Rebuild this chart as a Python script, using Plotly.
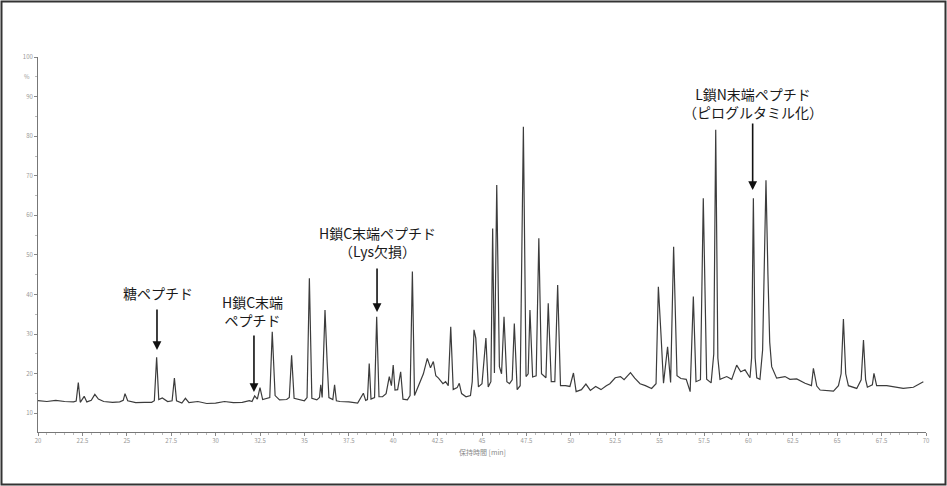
import plotly.graph_objects as go

# Retention time [min] and intensity [%]
rt_min = [
    20.0, 20.5, 21.0, 21.5, 22.0, 22.15, 22.27, 22.38, 22.6, 22.75, 23.0, 23.2, 23.4, 23.7,
    24.2, 24.6, 24.8, 24.9, 25.05, 25.5, 26.0, 26.4, 26.55, 26.68, 26.8, 27.0, 27.3, 27.55,
    27.68, 27.8, 28.1, 28.3, 28.5, 29.0, 29.5, 30.0, 30.5, 31.0, 31.5, 31.9, 32.05, 32.2,
    32.35, 32.5, 32.65, 32.9, 33.05, 33.19, 33.35, 33.6, 34.0, 34.15, 34.28, 34.42, 34.7,
    35.0, 35.15, 35.28, 35.42, 35.7, 35.85, 35.92, 36.0, 36.16, 36.28, 36.38, 36.6, 36.7,
    36.8, 37.0, 37.5, 38.0, 38.32, 38.45, 38.55, 38.65, 38.75, 38.95, 39.07, 39.2, 39.4,
    39.6, 39.78, 39.9, 40.0, 40.1, 40.25, 40.42, 40.55, 40.8, 40.95, 41.08, 41.2, 41.5,
    41.7, 41.92, 42.1, 42.26, 42.4, 42.55, 42.8, 42.95, 43.1, 43.24, 43.38, 43.6, 43.72,
    43.85, 44.1, 44.35, 44.45, 44.55, 44.65, 44.8, 45.0, 45.22, 45.35, 45.5, 45.6, 45.7,
    45.83, 45.98, 46.1, 46.24, 46.4, 46.55, 46.7, 46.82, 46.98, 47.15, 47.33, 47.48, 47.6,
    47.7, 47.85, 48.05, 48.2, 48.35, 48.6, 48.73, 48.9, 49.1, 49.26, 49.42, 49.7, 49.95,
    50.15, 50.3, 50.6, 50.85, 51.1, 51.4, 51.7, 52.0, 52.2, 52.5, 52.8, 53.0, 53.36, 53.6,
    53.9, 54.2, 54.55, 54.8, 54.93, 55.08, 55.22, 55.45, 55.62, 55.79, 55.98, 56.2, 56.5,
    56.72, 56.9, 57.05, 57.3, 57.46, 57.65, 57.9, 58.05, 58.16, 58.28, 58.4, 58.78, 59.06,
    59.34, 59.57, 59.81, 60.09, 60.18, 60.28, 60.38, 60.47, 60.65, 60.8, 60.9, 60.99, 61.1,
    61.2, 61.31, 61.59, 62.06, 62.34, 62.72, 63.19, 63.55, 63.66, 63.85, 64.04, 64.79, 65.07,
    65.22, 65.35, 65.48, 65.63, 66.1, 66.35, 66.48, 66.6, 66.7, 66.98, 67.07, 67.22, 67.79,
    68.72, 69.29, 69.85,
]
intensity_pct = [
    13.2, 13.0, 13.3, 13.0, 12.9, 13.1, 17.8, 12.8, 14.3, 12.9, 13.3, 14.8, 13.6, 13.0,
    12.8, 12.9, 13.3, 15.0, 13.2, 12.7, 12.8, 12.8, 13.2, 24.2, 13.5, 13.9, 13.0, 13.2,
    18.9, 13.2, 12.6, 13.8, 12.7, 13.0, 12.5, 12.6, 13.0, 12.7, 12.8, 13.2, 13.0, 14.4,
    13.6, 16.5, 13.5, 13.8, 14.0, 30.6, 14.5, 13.4, 13.5, 14.0, 24.7, 13.8, 13.5,
    13.2, 14.0, 44.1, 13.8, 13.4, 14.0, 17.2, 14.0, 36.1, 23.0, 14.0, 13.5, 17.2,
    13.2, 13.0, 12.9, 12.6, 15.1, 13.3, 13.5, 22.6, 13.6, 14.0, 34.4, 14.2, 14.2,
    15.0, 19.3, 17.0, 22.2, 15.9, 16.0, 20.5, 13.6, 13.4, 14.5, 45.8, 14.5, 17.7,
    20.0, 23.9, 21.5, 23.1, 19.5, 18.9, 17.5, 18.0, 17.0, 31.9, 16.0, 16.5, 17.6,
    15.0, 14.2, 14.5, 18.0, 31.1, 29.0, 16.7, 17.5, 29.0, 16.7, 18.0, 56.7, 20.2,
    67.7, 21.8, 20.0, 34.4, 18.0, 17.5, 18.5, 32.7, 16.0, 17.0, 82.4, 19.3, 20.0,
    36.1, 19.2, 19.5, 54.2, 20.0, 19.0, 37.8, 18.0, 18.0, 42.4, 17.0, 17.0, 16.8,
    20.2, 15.5, 16.0, 17.4, 15.8, 16.8, 16.0, 17.0, 17.5, 19.0, 19.3, 18.5, 20.3, 18.9,
    17.5, 17.0, 16.3, 17.5, 42.0, 29.8, 17.6, 26.8, 17.8, 52.1, 19.5, 18.8, 18.6,
    15.5, 39.5, 18.0, 18.5, 64.3, 18.6, 17.7, 25.0, 81.6, 24.0, 18.6, 19.3, 18.6,
    22.2, 20.5, 21.0, 19.0, 24.0, 64.3, 24.0, 19.0, 18.6, 26.0, 50.0, 68.9, 45.0,
    28.0, 21.8, 18.9, 19.3, 18.6, 18.7, 17.6, 17.0, 21.4, 16.9, 15.9, 15.6, 17.0,
    20.0, 33.8, 20.0, 17.0, 16.3, 18.5, 28.5, 18.5, 16.6, 17.2, 20.1, 17.0, 17.0,
    16.3, 16.6, 18.0,
]

x_ticks = [20, 22.5, 25, 27.5, 30, 32.5, 35, 37.5, 40, 42.5, 45, 47.5, 50, 52.5, 55, 57.5, 60, 62.5, 65, 67.5, 70]
y_ticks = [10, 20, 30, 40, 50, 60, 70, 80, 90, 100]

# Labelled peaks: (label, arrow tip rt, arrow tip intensity, arrow length px, label rt, label intensity)
peak_labels = ["糖ペプチド", "H鎖C末端<br>ペプチド", "H鎖C末端ペプチド<br>（Lys欠損）", "L鎖N末端ペプチド<br>（ピログルタミル化）"]
tip_rt = [26.70, 32.16, 39.09, 60.24]
tip_int = [26.0, 15.4, 35.6, 66.4]
arrow_len = [42, 58, 45, 68]
label_rt = [26.76, 32.1, 39.09, 60.24]
label_int = [40.4, 35.9, 53.3, 88.5]

FONT = "Noto Sans CJK JP"

fig = go.Figure()
fig.add_trace(go.Scatter(
    x=rt_min, y=intensity_pct, mode="lines",
    line=dict(color="#3c3c3c", width=1.2),
    hoverinfo="skip", showlegend=False,
))

annotations = []
for lab, tx, ty, al, lx, ly in zip(peak_labels, tip_rt, tip_int, arrow_len, label_rt, label_int):
    annotations.append(dict(
        x=tx, y=ty, xref="x", yref="y", text="", showarrow=True,
        ax=0, ay=-al, arrowhead=2, arrowsize=1.1, arrowwidth=1.6, arrowcolor="#111111",
    ))
    annotations.append(dict(
        x=lx, y=ly, xref="x", yref="y", text=lab, showarrow=False,
        font=dict(family=FONT, size=14, color="#1a1a1a"),
        xanchor="center", yanchor="middle", align="center",
    ))

annotations.append(dict(x=-0.0124, y=95, xref="paper", yref="y", text="%", showarrow=False,
                        font=dict(family=FONT, size=6, color="#999999"), xanchor="center"))
annotations.append(dict(x=0.5, y=-0.053, xref="paper", yref="paper", text="保持時間 [min]", showarrow=False,
                        font=dict(family=FONT, size=7, color="#888888"), xanchor="center", yanchor="middle"))

L, R, T, B = 38, 21, 57, 54
W, H = 947, 486
pw, ph = W - L - R, H - T - B

fig.update_layout(
    width=W, height=H,
    margin=dict(l=L, r=R, t=T, b=B),
    paper_bgcolor="white", plot_bgcolor="white",
    annotations=annotations,
    shapes=[dict(
        type="rect", xref="paper", yref="paper",
        x0=(1.5 - L) / pw, x1=(W - 1.5 - L) / pw,
        y0=(H - B - (H - 1.5)) / ph, y1=(H - B - 1.5) / ph,
        line=dict(color="#333333", width=2), fillcolor="rgba(0,0,0,0)", layer="above",
    )],
    xaxis=dict(
        range=[20, 70], tickvals=x_ticks, ticktext=[f"{v:g}" for v in x_ticks],
        showgrid=False, zeroline=False, showline=True, linecolor="#777777", linewidth=1,
        ticks="outside", ticklen=3, tickcolor="#888888",
        tickfont=dict(family=FONT, size=6, color="#999999"),
        minor=dict(dtick=0.5, ticks="outside", ticklen=2, tickcolor="#bbbbbb"),
    ),
    yaxis=dict(
        range=[5.3, 100], tickvals=y_ticks, ticktext=[str(v) for v in y_ticks],
        showgrid=False, zeroline=False, showline=True, linecolor="#777777", linewidth=1,
        ticks="outside", ticklen=3, tickcolor="#888888",
        tickfont=dict(family=FONT, size=6, color="#999999"),
        minor=dict(dtick=5, ticks="outside", ticklen=2, tickcolor="#bbbbbb"),
    ),
)

fig.write_html("out.html")
